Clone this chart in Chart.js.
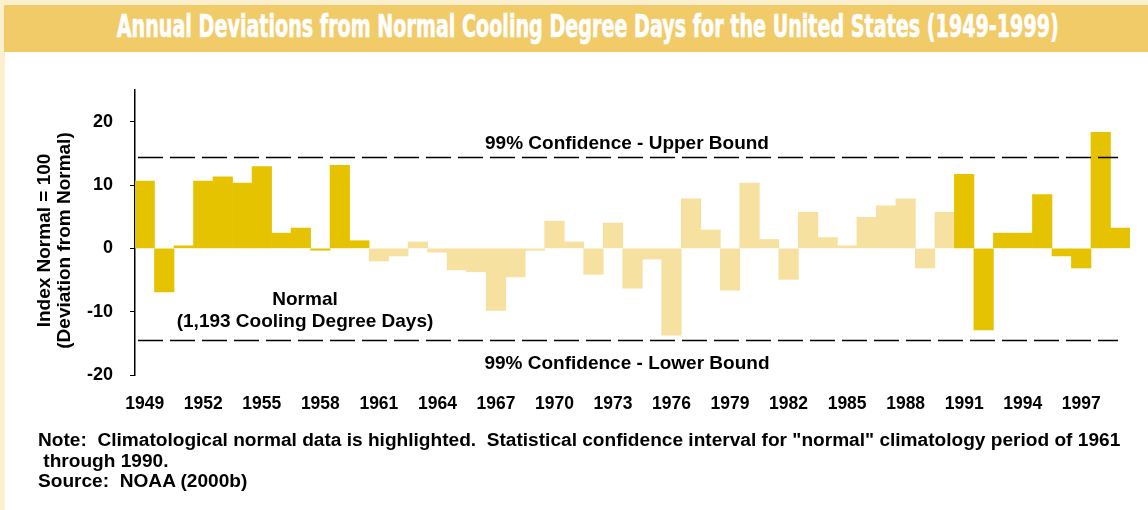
<!DOCTYPE html>
<html>
<head>
<meta charset="utf-8">
<script src="https://cdn.jsdelivr.net/npm/chart.js@4.4.1/dist/chart.umd.min.js"></script>
<style>
  html, body { margin: 0; padding: 0; }
  body { width: 1148px; height: 510px; background: #FCEFCD; position: relative; overflow: hidden;
         font-family: "Liberation Sans", Arial, sans-serif; }
  #panel { position: absolute; left: 5px; top: 52px; right: 0; bottom: 0; background: #ffffff; }
  #banner { position: absolute; left: 4px; top: 5px; width: 1144px; height: 47px; background: #F2CB69; }
  #title { position: absolute; left: 14px; top: 5px; width: 1148px; height: 42px; display: flex; justify-content: center;
           white-space: nowrap; color: #ffffff;
           font-family: "Liberation Sans Narrow", "DejaVu Sans Condensed", "Liberation Sans", sans-serif;
           font-stretch: condensed; font-weight: bold; font-size: 32px; line-height: 42px;
           -webkit-text-stroke: 0.7px #ffffff; }
  #title span { display: inline-block; flex: none; transform-origin: center center; }
  #chartWrap { position: absolute; left: 0; top: 0; width: 1148px; height: 510px; }
  #notes { position: absolute; left: 38px; top: 430px; font-weight: bold; font-size: 19.1px; line-height: 20.5px;
           color: #000; white-space: pre; }
</style>
</head>
<body>
<div id="panel"></div>
<div id="banner"></div>
<div id="title"><span id="titleText">Annual Deviations from Normal Cooling Degree Days for the United States (1949-1999)</span></div>
<div id="chartWrap"><canvas id="c" width="1148" height="510"></canvas></div>
<div id="notes">Note:  Climatological normal data is highlighted.  Statistical confidence interval for "normal" climatology period of 1961
 through 1990.
Source:  NOAA (2000b)</div>
<script>
// ---- data ----
const years = [1949,1950,1951,1952,1953,1954,1955,1956,1957,1958,1959,1960,
  1961,1962,1963,1964,1965,1966,1967,1968,1969,1970,1971,1972,1973,1974,1975,1976,1977,1978,1979,1980,
  1981,1982,1983,1984,1985,1986,1987,1988,1989,1990,
  1991,1992,1993,1994,1995,1996,1997,1998,1999];
const deviations = [10.6,-6.9,0.4,10.6,11.3,10.3,12.9,2.4,3.2,-0.3,13.1,1.2,
  -2.0,-1.2,1.0,-0.6,-3.4,-3.7,-9.8,-4.5,-0.3,4.3,1.0,-4.1,4.0,-6.3,-1.7,-13.7,7.8,2.9,-6.6,10.3,
  1.4,-4.9,5.7,1.7,0.4,4.9,6.7,7.8,-3.1,5.7,
  11.7,-12.9,2.4,2.4,8.5,-1.2,-3.1,18.3,3.2];
const normalPeriod = [1961, 1990];
const confidenceBounds = [14.4, -14.4];
const yTicks = [-20, -10, 0, 10, 20];
const yRange = [-20, 25];
const labelEvery = 3;

// ---- styles ----
const DARK = '#E6C300';
const LIGHT = '#F6E1A0';
const FONT = '"Liberation Sans", Arial, sans-serif';

// fit title width
(function(){
  const t = document.getElementById('titleText');
  const w = t.getBoundingClientRect().width;
  t.style.transform = 'scaleX(' + (942 / w) + ')';
})();

const annotations = {
  id: 'annotations',
  afterDatasetsDraw(chart) {
    const ctx = chart.ctx, y = chart.scales.y, area = chart.chartArea;
    ctx.save();
    ctx.strokeStyle = '#000';
    ctx.lineWidth = 1.3;
    ctx.setLineDash([25, 7]);
    confidenceBounds.forEach(v => {
      const py = Math.round(y.getPixelForValue(v)) + 0.5;
      ctx.beginPath();
      ctx.moveTo(area.left + 3, py);
      ctx.lineTo(area.right - 12, py);
      ctx.stroke();
    });
    ctx.setLineDash([]);
    ctx.fillStyle = '#000';
    ctx.textAlign = 'center';
    ctx.textBaseline = 'middle';
    ctx.font = 'bold 19px ' + FONT;
    ctx.fillText('99% Confidence - Upper Bound', 627, y.getPixelForValue(confidenceBounds[0]) - 13.5);
    ctx.fillText('99% Confidence - Lower Bound', 627, y.getPixelForValue(confidenceBounds[1]) + 24);
    ctx.fillText('Normal', 305, y.getPixelForValue(0) + 51);
    ctx.fillText('(1,193 Cooling Degree Days)', 305, y.getPixelForValue(0) + 73);
    // y axis title
    const cy = (area.top + area.bottom) / 2 + 8;
    ctx.save();
    ctx.translate(45, cy);
    ctx.rotate(-Math.PI / 2);
    ctx.fillText('Index Normal = 100', 0, 0);
    ctx.restore();
    ctx.save();
    ctx.translate(65, cy);
    ctx.rotate(-Math.PI / 2);
    ctx.fillText('(Deviation from Normal)', 0, 0);
    ctx.restore();
    ctx.restore();
  }
};

new Chart(document.getElementById('c'), {
  type: 'bar',
  data: {
    labels: years.map(String),
    datasets: [{
      data: deviations,
      backgroundColor: years.map(yr => (yr >= normalPeriod[0] && yr <= normalPeriod[1]) ? LIGHT : DARK),
      borderWidth: 0,
      barPercentage: 1.0,
      categoryPercentage: 1.0
    }]
  },
  options: {
    responsive: false,
    animation: false,
    devicePixelRatio: 1,
    layout: { padding: { left: 0, top: 90, right: 18, bottom: 75 } },
    plugins: { legend: { display: false }, tooltip: { enabled: false }, title: { display: false } },
    scales: {
      x: {
        offset: true,
        grid: { display: false, drawTicks: false },
        border: { display: false },
        ticks: {
          autoSkip: false, maxRotation: 0, minRotation: 0,
          padding: 19,
          color: '#000',
          font: { family: FONT, weight: 'bold', size: 17.5 },
          callback: function(value, index) { return index % labelEvery === 0 ? this.getLabelForValue(value) : ''; }
        },
        afterFit(scale) { scale.height = 60; }
      },
      y: {
        min: yRange[0], max: yRange[1],
        afterBuildTicks(scale) { scale.ticks = yTicks.map(v => ({ value: v })); },
        grid: { display: true, drawOnChartArea: false, drawTicks: true, tickLength: 5, color: '#000', lineWidth: 1 },
        border: { display: true, color: '#000', width: 1.5 },
        ticks: {
          padding: 17,
          color: '#000',
          font: { family: FONT, weight: 'bold', size: 18 }
        },
        afterFit(scale) { scale.width = 135; }
      }
    }
  },
  plugins: [annotations]
});
</script>
</body>
</html>
